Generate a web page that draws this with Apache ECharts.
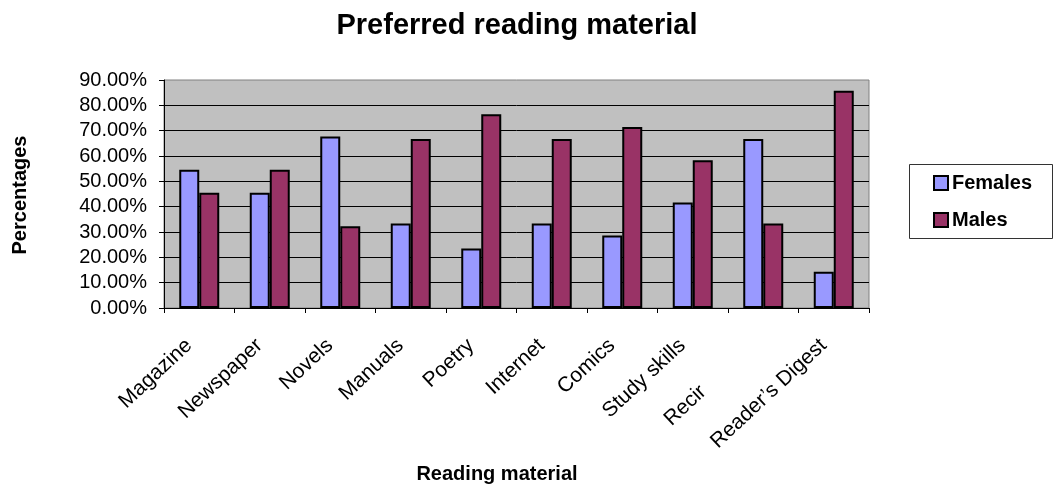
<!DOCTYPE html>
<html>
<head>
<meta charset="utf-8">
<script src="https://cdn.jsdelivr.net/npm/echarts@6/dist/echarts.min.js"></script>
<style>
  html, body { margin: 0; padding: 0; background: #ffffff; }
  #chart { width: 1054px; height: 487px; }
</style>
</head>
<body>
<div id="chart"></div>
<script>
// Reading material categories and the share of each group preferring them (%)
const categories = ['Magazine', 'Newspaper', 'Novels', 'Manuals', 'Poetry', 'Internet', 'Comics', 'Study skills', 'Recipes', 'Reader\u2019s Digest'];
const females = [54.55, 45.45, 67.74, 33.33, 23.53, 33.33, 28.57, 41.67, 66.67, 14.29];
const males   = [45.45, 54.55, 32.26, 66.67, 76.47, 66.67, 71.43, 58.33, 33.33, 85.71];
const yTicks = { min: 0, max: 90, step: 10 };

const FONT = '"Liberation Sans", Arial, sans-serif';

const chart = echarts.init(document.getElementById('chart'), null, { renderer: 'canvas' });

chart.setOption({
  animation: false,
  backgroundColor: '#ffffff',
  textStyle: { fontFamily: FONT },
  grid: {
    left: 164, right: 185, top: 80, bottom: 179,
    show: true,
    backgroundColor: '#c0c0c0',
    borderColor: '#808080',
    borderWidth: 1
  },
  legend: {
    orient: 'vertical',
    left: 933,
    top: 173,
    padding: 0,
    itemWidth: 14,
    itemHeight: 14,
    itemGap: 17,
    icon: 'rect',
    itemStyle: { borderColor: '#000', borderWidth: 2 },
    textStyle: { fontFamily: FONT, fontSize: 20, fontWeight: 'bold', color: '#000', lineHeight: 20, padding: [0, 0, 0, -1] },
    data: ['Females', 'Males']
  },
  xAxis: {
    type: 'category',
    data: categories,
    boundaryGap: true,
    axisLine: { lineStyle: { color: '#000', width: 1 } },
    axisTick: { show: true, length: 5, alignWithLabel: false, lineStyle: { color: '#000' } },
    axisLabel: {
      interval: 0,
      rotate: 43,
      margin: 25,
      fontFamily: FONT,
      fontSize: 21,
      color: '#000',
      // slanted names sit a little back from the tick; Recipes is cut short by its long neighbour
      formatter: function (v) {
        return v === 'Recipes' ? '{v|Recir}{gap|}{pad|}' : '{v|' + v + '}{pad|}';
      },
      rich: {
        v: { fontFamily: FONT, fontSize: 21, color: '#000' },
        gap: { width: 68 },
        pad: { width: 14 }
      }
    },
    splitLine: { show: false }
  },
  yAxis: {
    type: 'value',
    min: yTicks.min,
    max: yTicks.max,
    interval: yTicks.step,
    axisLine: { show: true, lineStyle: { color: '#000', width: 1 } },
    axisTick: { show: true, length: 5, lineStyle: { color: '#000' } },
    axisLabel: {
      margin: 17,
      fontFamily: FONT,
      fontSize: 20,
      color: '#000',
      formatter: function (v) { return v.toFixed(2) + '%'; }
    },
    splitLine: { show: true, showMinLine: false, showMaxLine: false, lineStyle: { color: '#000', width: 1 } }
  },
  series: [
    {
      name: 'Females',
      type: 'bar',
      data: females,
      barWidth: 20,
      barGap: '0%',
      itemStyle: { color: '#9999ff', borderColor: '#000', borderWidth: 2 }
    },
    {
      name: 'Males',
      type: 'bar',
      data: males,
      barWidth: 20,
      barGap: '0%',
      itemStyle: { color: '#993366', borderColor: '#000', borderWidth: 2 }
    }
  ],
  graphic: [
    {
      type: 'text',
      style: {
        x: 517, y: 26,
        text: 'Preferred reading material',
        font: 'bold 29px ' + FONT,
        fill: '#000',
        align: 'center',
        verticalAlign: 'middle'
      }
    },
    {
      type: 'text',
      style: {
        x: 497, y: 474,
        text: 'Reading material',
        font: 'bold 20px ' + FONT,
        fill: '#000',
        align: 'center',
        verticalAlign: 'middle'
      }
    },
    {
      type: 'text',
      x: 20, y: 195,
      rotation: Math.PI / 2,
      style: {
        x: 0, y: 0,
        text: 'Percentages',
        font: 'bold 20px ' + FONT,
        fill: '#000',
        align: 'center',
        verticalAlign: 'middle'
      }
    },
    {
      type: 'rect',
      shape: { x: 909.5, y: 164.5, width: 143, height: 74 },
      style: { fill: 'none', stroke: '#333', lineWidth: 1 },
      z: -1
    }
  ]
});
</script>
</body>
</html>
